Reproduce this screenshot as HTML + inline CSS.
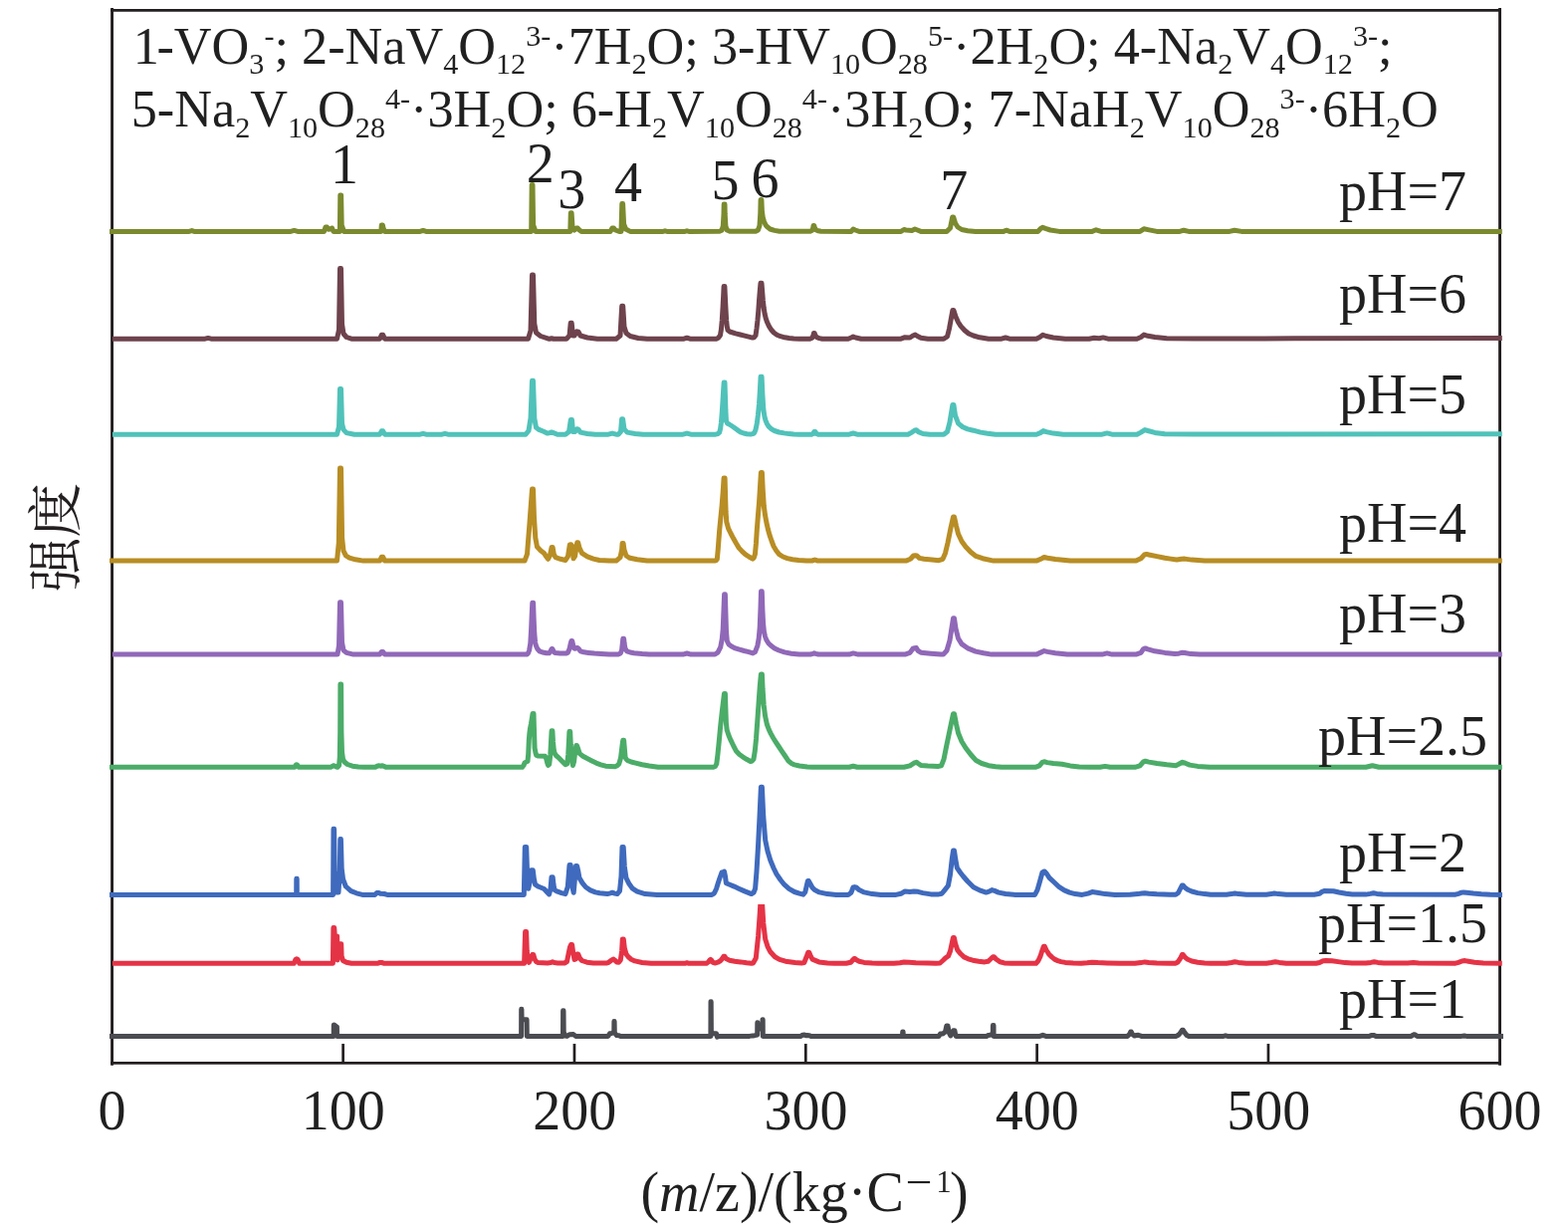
<!DOCTYPE html>
<html><head><meta charset="utf-8"><title>chart</title>
<style>html,body{margin:0;padding:0;background:#fff}svg{display:block}</style>
</head><body>
<svg width="1575" height="1233" viewBox="0 0 1575 1233">
<rect width="1575" height="1233" fill="#fff"/>
<g stroke="#231f20" fill="none">
<path d="M111.1 10.46H1508M111.1 1067.4H1508" stroke-width="2.7"/>
<path d="M112.55 8V1069.8M1506.55 8V1069.8" stroke-width="2.9"/>
<path d="M344.63 1048.1V1067M576.97 1048.1V1067M809.30 1048.1V1067M1041.63 1048.1V1067M1273.96 1048.1V1067" stroke-width="2.7"/>
</g>
<clipPath id="rc"><rect x="0" y="907.9" width="1575" height="100"/></clipPath>
<g fill="none" stroke-width="5.0" stroke-linejoin="round" stroke-linecap="butt">
<path stroke="#7b8a2e" d="M110.0 232.4L190.0 232.4L192.7 231.6L195.0 232.4L292.0 232.4L295.5 231.4L299.0 232.4L325.5 232.4L327.0 228.1L328.5 228.1L330.0 230.3L332.0 229.8L333.5 229.0L335.0 232.4L341.4 232.4L341.8 195.9L342.6 195.9L343.2 226.0L345.5 232.4L382.8 232.4L383.3 225.9L384.3 225.9L385.0 229.0L386.5 232.4L422.0 232.4L425.0 231.4L428.0 232.4L533.7 232.4L534.2 185.5L535.0 185.5L535.6 226.0L538.0 232.4L572.8 232.4L573.3 213.7L574.1 213.7L575.0 228.0L577.0 231.0L579.0 229.0L580.3 229.1L582.0 231.0L584.0 232.4L613.0 232.4L615.0 229.1L616.5 229.1L618.0 231.0L622.0 232.4L624.0 232.4L624.8 204.5L625.6 204.5L626.6 225.0L628.5 230.0L633.0 232.4L666.0 232.4L668.0 231.8L670.0 232.4L688.0 232.4L690.0 231.8L692.0 232.4L722.7 232.3L725.0 231.3L726.3 227.0L727.0 215.0L727.2 205.0L728.0 205.0L728.2 215.0L728.9 227.0L730.2 231.0L733.1 232.3L759.0 232.3L761.5 231.0L763.0 226.5L763.8 214.0L764.1 200.5L764.9 200.5L765.4 212.0L766.3 218.5L767.5 222.5L769.0 225.8L770.7 227.8L773.5 230.0L777.9 231.4L783.0 232.3L813.5 232.3L815.6 231.5L816.7 229.0L817.1 226.4L817.7 226.4L818.4 229.0L819.8 231.0L822.0 231.8L824.6 232.3L855.0 232.4L857.0 230.1L859.0 231.0L863.0 232.4L905.0 232.4L908.0 230.5L910.0 231.0L916.0 231.5L919.0 230.0L921.5 231.0L925.0 232.4L951.0 232.4L954.5 229.0L956.7 217.9L957.7 217.9L959.5 224.0L962.0 228.0L966.0 230.5L972.0 231.7L980.0 232.4L1008.0 232.4L1010.8 231.2L1014.0 232.4L1042.5 232.4L1045.5 229.3L1047.2 228.3L1050.0 229.4L1055.0 231.0L1064.0 232.4L1097.0 232.4L1101.0 230.8L1106.0 232.4L1145.0 232.4L1149.0 229.8L1153.0 230.6L1162.0 232.4L1185.0 232.4L1189.0 231.2L1194.0 232.4L1235.0 232.4L1240.0 231.2L1247.0 232.4L1508.8 232.4"/>
<path stroke="#6e434d" d="M113.0 340.2L206.0 340.2L209.0 339.4L212.0 340.2L338.5 340.2L340.5 331.0L341.5 269.6L342.5 269.6L343.5 325.0L345.0 335.0L348.0 338.5L353.0 340.2L381.5 340.2L383.3 336.3L384.7 336.3L386.5 340.2L530.5 340.2L533.0 332.0L534.5 276.0L535.5 276.0L536.8 325.0L538.5 334.0L543.0 337.5L551.0 340.2L552.0 340.2L554.0 339.7L556.0 340.2L569.0 340.2L572.0 337.0L573.2 324.2L574.2 324.2L575.5 337.0L577.0 337.0L579.5 332.8L581.0 333.2L583.0 337.0L590.0 339.0L600.0 340.2L619.0 340.2L623.0 337.0L624.7 307.2L625.7 307.2L627.0 328.0L629.0 334.5L633.0 337.5L641.0 339.5L650.0 340.2L687.0 340.2L690.0 339.2L693.0 340.2L719.5 340.2L721.5 339.3L723.4 336.8L724.4 331.0L725.3 321.2L726.1 308.0L726.7 296.0L727.1 287.4L727.9 287.4L728.3 296.0L728.9 308.0L729.6 321.2L730.3 328.0L731.1 331.6L733.0 333.0L738.9 334.9L743.5 336.0L748.0 337.1L752.0 338.1L755.8 339.1L757.5 338.7L759.0 336.8L760.0 330.0L761.0 321.2L761.8 312.0L762.5 301.8L763.3 292.0L764.0 284.2L765.0 284.2L765.7 293.0L766.4 301.8L767.2 309.0L768.1 314.8L769.3 319.8L770.7 323.8L772.5 327.6L774.6 331.0L777.3 334.0L780.4 336.2L784.0 337.7L788.2 338.8L792.5 339.5L797.3 339.9L803.0 340.2L813.5 340.2L815.8 339.2L817.0 336.5L817.4 334.5L818.2 334.5L818.8 336.5L820.3 338.7L823.0 339.6L825.9 340.2L852.0 340.2L855.0 339.0L857.0 338.1L859.5 339.0L865.0 340.2L905.0 340.2L909.0 338.7L913.0 339.0L914.0 339.0L917.0 337.0L919.3 336.1L921.5 337.5L925.0 339.3L932.0 340.2L948.0 340.2L951.5 338.0L953.5 330.0L956.9 311.4L957.9 311.4L960.0 318.0L962.5 323.5L965.0 327.4L969.0 331.8L973.0 335.0L977.7 337.0L984.0 338.8L993.0 340.2L1006.0 340.2L1010.0 339.0L1014.0 340.2L1041.0 340.2L1044.5 338.5L1047.5 336.3L1051.0 337.5L1058.0 339.0L1070.0 340.2L1094.0 340.2L1099.0 339.2L1104.0 339.7L1108.0 338.9L1113.0 340.2L1142.0 340.2L1146.0 338.5L1149.0 336.1L1153.0 337.3L1160.0 338.5L1172.0 339.8L1200.0 340.1L1300.0 339.8L1508.8 339.6"/>
<path stroke="#50c2b9" d="M113.0 436.2L338.5 436.2L340.5 428.3L341.5 390.4L342.5 390.4L343.5 425.1L345.0 431.4L348.0 434.6L356.0 436.2L381.5 436.2L383.3 432.8L384.7 432.8L386.5 436.2L422.0 436.2L425.0 435.3L428.0 436.2L444.0 436.2L447.0 435.3L450.0 436.2L528.0 436.2L531.0 432.5L533.0 420.0L534.5 382.3L535.5 382.3L536.8 420.0L538.5 429.3L541.4 431.4L546.0 433.3L550.0 435.1L552.0 434.6L554.0 433.9L556.0 434.6L560.0 436.2L568.0 436.2L571.5 433.6L573.3 421.6L574.5 421.6L575.5 433.6L577.5 433.6L579.5 430.7L581.0 431.1L583.0 434.1L590.0 435.5L598.0 436.2L611.0 436.2L615.0 435.1L619.0 436.2L621.0 436.2L623.5 433.6L624.6 420.8L625.6 420.8L627.0 430.9L630.0 434.1L638.0 435.5L646.0 436.2L686.0 436.2L690.0 435.1L694.0 436.2L718.7 436.2L721.0 435.6L722.7 434.1L723.6 430.5L724.4 424.5L725.2 415.0L726.0 403.0L726.7 391.0L727.2 383.9L728.0 383.9L728.4 396.0L728.9 412.0L729.5 423.0L730.5 425.0L732.4 426.0L734.8 427.5L737.3 429.2L740.5 431.6L743.8 433.8L747.0 435.0L750.3 435.7L754.0 436.0L756.0 435.6L757.6 434.9L759.0 431.5L760.3 425.2L761.4 417.0L762.5 405.7L763.4 392.0L764.1 378.2L765.1 378.2L765.8 394.0L766.8 410.6L767.8 417.5L768.9 421.9L770.4 425.5L772.2 428.4L775.0 430.8L777.9 432.5L782.5 434.0L787.6 434.9L792.5 435.6L797.3 436.0L803.0 436.2L815.2 436.2L816.8 435.5L817.9 433.4L818.9 433.4L820.0 435.5L821.8 436.2L853.0 436.2L857.0 435.0L861.0 436.2L912.0 436.2L916.0 434.1L919.0 431.9L920.5 431.7L922.5 433.6L927.0 435.5L934.0 436.2L948.0 436.2L951.5 433.6L954.0 424.0L956.9 406.4L957.9 406.4L959.5 417.0L962.5 425.1L967.0 428.8L972.0 430.9L977.7 432.2L985.0 434.1L992.0 435.2L1000.0 436.2L1041.0 436.2L1045.0 434.6L1048.0 432.6L1051.0 433.6L1058.0 435.1L1068.0 436.2L1107.0 436.2L1112.0 434.9L1117.0 436.2L1142.0 436.2L1146.0 434.1L1150.0 431.6L1153.0 432.5L1160.0 434.4L1170.0 435.7L1200.0 436.0L1508.8 435.7"/>
<path stroke="#b88d24" d="M110.0 563.1L338.5 563.1L340.3 545.0L341.5 470.0L342.5 470.0L343.6 540.0L345.0 553.2L347.5 558.0L351.0 560.2L357.0 561.8L365.0 563.1L381.5 563.1L383.3 559.2L384.7 559.2L386.5 563.1L527.0 563.1L529.5 556.4L532.0 525.0L534.5 491.1L535.5 491.1L536.5 520.0L537.8 540.0L539.5 549.0L543.0 552.7L546.5 555.4L548.5 558.6L550.5 561.3L552.5 557.5L554.1 549.5L555.1 549.5L556.3 556.4L558.0 559.7L563.0 561.3L568.0 562.5L570.5 558.6L572.3 547.0L573.6 546.7L574.6 548.0L576.0 560.7L577.5 558.6L579.7 544.8L580.7 544.8L582.0 550.0L584.5 555.4L590.0 558.9L596.0 561.1L602.0 562.5L612.0 563.1L619.0 563.1L623.0 559.7L624.6 552.1L625.1 545.5L626.1 545.5L627.0 552.1L629.0 558.0L632.7 560.3L640.0 561.8L650.0 563.1L717.8 563.1L719.3 562.6L720.3 561.4L721.2 552.0L722.7 532.2L723.9 520.0L725.1 507.9L726.2 494.0L727.1 479.9L728.1 479.9L728.6 498.0L729.1 514.0L729.8 524.0L731.6 530.6L734.0 535.5L736.5 540.3L739.3 545.3L742.2 550.1L745.4 553.6L748.7 556.6L752.3 559.0L756.0 561.1L757.3 560.0L758.4 556.6L759.4 546.0L760.3 532.2L761.4 518.0L762.5 504.7L763.5 489.0L764.4 474.4L765.4 474.4L766.2 491.0L767.3 507.9L768.5 517.0L769.8 524.1L771.3 531.0L773.0 537.1L775.0 543.0L777.1 548.5L779.8 553.0L782.7 556.6L786.5 559.0L790.8 560.6L796.0 561.8L802.2 562.6L810.0 563.1L815.5 563.1L817.3 562.4L818.4 562.1L819.6 562.4L821.5 563.1L910.0 563.1L914.5 561.3L917.5 558.0L919.3 557.7L921.0 558.0L923.5 560.4L928.0 561.3L936.0 562.1L943.0 562.7L947.0 561.3L949.5 555.4L952.0 545.0L955.0 530.0L957.5 519.0L958.5 519.0L960.5 528.0L962.5 536.0L966.0 543.5L970.0 549.0L975.0 554.3L980.3 558.4L987.0 560.7L998.0 563.1L1041.0 563.1L1045.5 561.3L1048.8 559.4L1052.0 560.2L1060.0 561.5L1075.0 563.1L1141.0 563.1L1146.0 560.7L1149.5 557.0L1151.6 556.4L1154.0 557.0L1162.0 558.6L1170.0 560.2L1175.7 561.1L1182.0 562.0L1187.0 561.3L1190.0 561.1L1197.0 562.1L1210.0 562.9L1508.8 562.9"/>
<path stroke="#9068b8" d="M113.0 657.1L339.0 657.1L340.5 648.1L341.5 604.8L342.5 604.8L343.5 645.0L345.0 652.8L348.0 655.4L355.0 657.1L381.5 657.1L383.3 654.4L384.7 654.4L386.5 657.1L529.2 657.0L530.5 656.0L531.6 653.0L532.8 646.0L533.6 632.0L534.3 615.0L534.8 605.2L535.6 605.2L536.1 620.0L536.8 636.0L537.6 645.0L538.4 648.3L539.8 651.5L541.9 653.8L545.0 655.0L549.0 655.7L551.5 655.8L552.6 654.5L553.6 652.5L554.2 651.6L554.8 651.6L555.5 652.8L556.5 654.8L557.8 655.6L562.4 655.9L568.8 656.0L570.4 655.2L572.0 651.5L573.0 647.0L573.9 643.6L574.7 643.6L575.5 647.0L576.4 650.5L577.2 651.3L578.2 651.0L579.4 650.4L580.2 650.4L581.3 651.5L583.0 653.8L586.5 654.8L590.9 655.4L597.0 656.1L603.6 656.5L612.0 657.0L621.0 657.0L623.3 656.0L624.6 652.5L625.3 646.0L625.8 641.3L626.6 641.3L627.1 646.0L627.9 651.0L629.7 653.8L633.0 655.0L636.8 655.7L645.0 656.5L652.0 657.0L686.0 657.1L690.0 656.0L694.0 657.1L718.2 657.0L721.0 655.2L723.7 649.9L725.2 642.0L726.2 632.0L727.0 612.0L727.6 596.7L728.4 596.7L728.9 615.0L729.5 634.0L730.3 643.5L732.0 647.0L734.8 649.1L738.5 650.9L742.7 652.2L747.5 653.5L752.2 654.6L756.2 655.9L758.5 654.6L760.9 648.3L762.2 641.0L763.2 630.0L764.0 610.0L764.5 593.8L765.3 593.8L765.9 612.0L766.6 626.0L767.4 634.0L768.5 639.0L769.8 642.5L772.0 646.0L774.4 648.3L778.0 651.0L782.3 653.0L788.0 654.9L794.9 656.2L802.8 657.0L814.0 657.0L816.5 656.3L817.9 655.8L819.5 656.3L822.0 657.0L853.0 657.1L857.0 655.9L862.0 657.1L909.0 657.1L914.0 655.4L917.0 651.2L918.7 650.8L920.5 650.6L922.0 653.3L925.0 655.2L935.0 656.2L945.0 657.1L947.5 657.1L951.0 653.3L954.0 643.0L957.5 620.8L958.5 620.8L960.0 631.0L962.5 641.0L966.0 646.6L972.6 651.2L980.0 654.1L988.0 655.7L996.0 657.1L1041.0 657.1L1046.0 654.9L1048.8 653.6L1052.0 654.4L1060.0 655.7L1072.0 657.1L1107.0 657.1L1112.0 655.9L1117.0 657.1L1141.0 657.1L1146.0 655.4L1148.5 651.6L1150.5 651.0L1153.0 651.8L1160.0 653.8L1170.0 655.4L1180.0 656.4L1184.0 656.2L1187.0 655.3L1190.0 655.5L1196.0 656.6L1205.0 657.1L1508.8 657.1"/>
<path stroke="#4bac68" d="M110.0 770.3L296.0 770.3L297.3 768.0L297.9 767.7L298.6 768.0L300.0 770.3L332.5 770.3L334.3 769.0L335.1 768.7L336.0 769.0L337.5 769.8L339.0 770.3L340.6 768.5L341.3 760.0L341.7 735.0L341.9 687.1L342.6 687.1L342.9 735.0L343.5 755.0L344.5 762.0L346.0 765.0L349.0 767.5L354.0 769.2L360.0 770.0L366.0 770.3L377.0 770.3L379.4 769.0L381.0 768.8L382.5 769.2L384.2 768.8L385.5 769.3L387.5 770.3L524.5 770.3L526.0 768.5L526.9 766.1L528.5 765.0L530.0 764.5L530.7 757.0L531.3 743.2L531.9 736.0L532.4 732.1L533.4 727.0L534.4 721.0L535.1 716.4L536.0 716.4L536.4 730.0L537.1 751.1L537.9 755.5L538.7 758.2L540.3 759.0L547.4 759.2L548.6 761.5L549.7 766.0L550.6 768.5L551.7 767.5L552.8 758.0L553.5 745.0L554.1 733.8L554.9 733.8L555.5 745.0L556.2 752.0L556.9 755.8L558.5 758.5L560.9 760.6L564.5 764.2L568.0 767.7L569.7 767.0L570.7 758.0L571.4 745.0L571.9 734.6L572.7 734.6L573.3 748.0L574.2 760.0L575.4 768.5L576.5 765.0L577.5 757.0L578.4 751.0L578.8 748.5L579.5 748.5L580.4 751.0L582.2 756.6L585.5 759.2L589.3 761.3L594.0 763.7L598.8 766.1L603.5 767.8L608.3 769.2L617.8 769.7L620.0 768.7L621.8 766.9L623.5 761.0L624.6 752.0L625.4 745.5L625.8 743.3L626.6 743.3L627.2 750.0L628.1 760.6L629.2 762.5L630.5 763.7L634.0 765.0L638.4 766.1L645.0 767.7L652.0 769.0L661.0 770.3L716.6 770.3L718.5 769.5L719.8 766.9L721.0 757.0L722.2 745.0L723.7 729.0L725.0 717.0L726.3 706.0L727.5 696.4L728.4 696.4L728.9 712.0L729.4 726.0L730.2 733.0L732.0 738.5L734.0 743.2L736.8 749.0L739.6 754.3L742.7 757.5L745.9 759.8L749.8 762.3L753.8 764.5L755.3 764.3L757.0 762.2L758.3 754.0L759.5 742.0L760.8 724.0L762.0 707.0L763.2 690.0L764.4 676.9L765.4 676.9L766.1 692.0L767.2 708.0L768.6 719.0L770.4 727.4L772.3 732.5L774.4 736.9L776.7 741.0L779.1 744.8L782.2 749.5L785.4 754.3L788.6 759.0L791.8 763.8L794.5 766.2L798.1 767.9L803.0 769.0L810.8 770.0L816.0 770.3L853.0 770.3L857.0 769.3L861.0 770.3L908.0 770.3L914.0 768.9L918.0 766.2L920.6 765.3L922.5 766.7L925.0 768.4L932.0 769.1L942.0 769.5L945.5 768.9L948.0 762.4L950.5 750.0L953.0 738.0L955.5 726.0L957.5 716.8L958.5 716.8L960.5 727.0L962.5 736.0L966.0 744.5L970.0 751.0L975.0 757.5L980.0 763.2L986.0 766.5L993.0 768.7L1000.0 769.8L1006.0 770.3L1040.0 770.3L1044.0 768.9L1047.0 765.4L1048.8 764.8L1052.0 765.6L1058.0 766.5L1066.6 767.3L1075.0 768.9L1084.0 770.0L1095.0 770.3L1105.0 770.3L1110.0 769.4L1115.0 770.3L1140.0 770.3L1145.0 768.9L1148.5 764.8L1150.4 764.2L1154.0 765.1L1162.0 766.5L1172.0 767.8L1181.0 768.7L1184.0 767.3L1187.7 765.3L1190.5 766.2L1195.0 768.1L1203.0 769.4L1215.0 770.3L1372.0 770.3L1378.5 768.7L1385.0 770.3L1508.8 770.3"/>
<path stroke="#3f6abd" d="M110.0 898.4L297.7 898.4L297.8 882.2L298.2 882.2L298.3 898.4L334.6 898.4L335.0 832.2L335.6 832.2L336.2 876.0L337.6 896.0L340.0 896.0L341.3 876.0L341.8 842.6L342.4 842.6L343.2 872.0L344.6 883.0L347.3 890.0L352.5 894.6L358.0 896.8L364.0 898.4L376.5 898.4L378.5 896.4L380.5 896.4L382.0 897.2L386.0 897.5L389.0 898.4L526.3 898.4L527.3 850.4L528.7 850.4L529.7 880.0L530.8 892.2L532.3 885.0L533.6 873.8L535.3 873.8L536.3 882.0L537.6 888.2L541.0 890.3L546.5 892.5L549.0 895.2L551.6 897.9L553.0 892.5L554.0 880.8L555.2 880.8L556.0 888.2L557.0 893.6L560.0 895.2L564.0 896.6L568.0 897.6L570.3 890.3L571.5 875.0L572.0 868.6L573.2 868.6L574.2 880.0L575.3 892.5L576.2 896.2L577.2 885.0L578.4 869.4L579.6 869.4L580.8 875.0L582.0 881.6L585.0 886.6L588.4 890.8L593.0 893.9L598.0 895.9L602.4 896.8L610.0 897.6L613.0 896.8L615.0 896.2L617.5 897.1L620.0 897.6L622.5 894.6L624.0 880.0L625.0 850.4L626.2 850.4L627.3 870.0L629.0 881.6L632.0 887.6L635.4 892.2L640.0 895.2L648.0 897.6L660.0 898.4L715.0 898.4L717.5 896.8L719.5 892.5L721.5 886.0L723.0 881.5L725.0 876.0L726.3 875.7L727.5 875.1L728.5 880.0L729.4 886.7L733.0 888.2L737.5 890.1L742.0 892.2L748.0 894.9L754.8 897.6L757.0 896.2L758.6 892.2L760.0 875.0L761.5 850.0L763.0 820.0L764.4 790.2L765.4 790.2L766.8 820.0L768.7 843.5L771.0 854.5L773.8 863.8L777.0 871.5L780.0 877.7L784.0 883.5L787.8 888.2L792.5 892.3L798.0 895.5L803.0 897.1L806.8 898.2L808.8 895.7L810.5 888.2L811.4 884.6L812.4 884.6L813.8 887.1L816.0 891.2L818.3 893.6L823.0 895.9L831.0 897.6L840.0 898.4L852.0 898.4L855.0 896.2L857.0 890.9L858.4 890.6L860.0 890.9L863.0 893.6L868.0 895.9L876.0 897.6L885.0 898.4L900.0 898.4L905.0 897.3L909.0 894.9L914.0 895.4L918.0 895.0L922.0 895.3L927.0 896.6L935.0 897.9L942.0 898.1L946.0 897.3L949.0 893.6L952.4 889.3L954.5 878.0L956.3 862.0L957.5 854.0L958.5 854.0L959.8 863.0L961.3 871.3L964.5 876.0L967.6 880.0L972.0 885.0L977.8 890.7L984.0 893.9L990.5 896.1L993.5 895.2L996.3 893.6L999.0 894.4L1003.0 896.1L1010.0 897.5L1020.0 898.4L1039.5 898.4L1042.0 893.6L1044.5 885.0L1047.0 876.0L1048.4 875.1L1049.4 875.1L1051.5 877.5L1054.0 881.4L1059.0 886.0L1064.0 890.7L1069.0 893.9L1074.3 896.1L1080.0 897.6L1087.0 898.4L1093.0 897.1L1097.0 895.6L1102.0 896.2L1110.0 897.6L1120.0 898.4L1135.0 898.3L1143.0 897.6L1147.0 897.0L1149.9 896.7L1154.0 897.2L1162.0 897.8L1175.0 898.2L1181.0 898.2L1183.5 896.5L1185.5 892.5L1187.4 888.9L1188.4 888.9L1190.0 891.0L1193.0 893.3L1197.0 895.0L1203.0 896.6L1210.0 897.6L1216.0 898.2L1232.0 898.2L1237.0 897.6L1240.4 897.0L1244.0 897.6L1252.0 898.2L1272.0 898.2L1277.0 897.6L1279.9 897.0L1284.0 897.6L1292.0 898.2L1320.0 898.2L1325.5 897.3L1328.0 895.3L1330.0 894.6L1339.4 894.7L1345.0 896.0L1352.0 897.3L1358.4 898.0L1372.0 898.1L1376.5 897.4L1379.6 896.7L1383.0 897.4L1389.0 898.1L1462.0 898.2L1465.0 897.3L1468.0 896.2L1470.0 895.9L1473.0 896.2L1480.0 897.0L1488.0 897.7L1497.0 898.2L1509.0 898.4"/>
<path stroke="#e53346" clip-path="url(#rc)" d="M113.0 967.3L295.3 967.3L296.8 963.6L298.0 962.7L299.2 963.6L300.7 967.3L334.4 967.3L334.9 931.5L335.7 931.5L336.3 939.9L338.6 939.9L339.0 964.0L339.4 947.7L342.7 947.7L343.1 960.0L344.5 964.5L348.0 966.3L353.0 967.3L379.0 967.3L381.5 966.5L383.5 966.5L386.0 967.3L526.6 967.3L527.6 935.6L528.6 935.6L529.3 955.0L530.3 964.0L531.4 966.3L533.3 962.0L534.8 958.6L535.8 958.6L537.0 963.0L538.5 965.5L540.5 966.6L550.0 966.9L553.0 966.6L555.0 965.8L557.0 966.6L560.0 966.9L567.0 967.0L569.5 965.5L571.4 956.0L572.5 951.0L573.6 948.5L574.6 948.5L575.6 956.0L577.0 963.5L578.3 963.0L579.6 958.1L580.8 958.1L582.3 962.0L584.5 964.5L589.5 966.2L596.0 966.9L609.0 967.1L611.4 966.3L614.0 964.2L616.3 963.1L618.0 964.5L619.5 966.0L621.5 966.3L623.3 964.0L624.6 955.0L625.3 943.0L626.3 943.0L627.3 952.0L629.0 958.0L631.1 960.8L634.0 963.2L637.7 964.9L645.0 966.5L654.0 967.3L688.0 967.3L690.0 966.7L692.0 967.3L709.5 967.3L711.5 966.0L713.0 963.8L713.7 963.4L714.6 964.0L716.0 966.3L718.6 967.0L721.0 966.2L723.5 964.8L725.5 962.5L726.9 960.2L727.9 960.2L729.3 962.5L732.8 964.2L738.0 965.2L743.8 965.9L750.0 966.8L754.7 967.3L756.5 967.0L759.3 962.0L761.6 940.0L763.2 918.0L764.1 903.0L765.3 903.0L766.8 927.0L768.7 943.0L771.0 950.3L773.6 955.5L778.4 960.8L783.0 963.4L789.0 965.2L798.5 966.5L805.1 967.0L807.8 966.5L810.0 961.0L811.7 956.3L812.7 956.3L814.0 959.5L816.0 963.1L822.6 965.9L831.3 967.0L838.0 967.3L850.0 967.3L854.5 966.3L856.5 964.0L857.9 962.6L858.9 962.6L860.2 963.8L863.0 965.3L868.0 966.4L876.0 967.1L882.0 967.3L898.0 967.3L904.0 966.8L908.0 966.0L913.0 966.3L920.0 966.7L932.0 967.1L940.0 967.2L944.2 967.0L947.0 964.5L949.7 961.9L952.5 960.0L954.5 955.0L956.0 948.0L957.4 941.6L958.4 941.6L959.5 947.0L961.7 953.8L965.0 957.8L968.3 960.9L972.5 962.8L977.1 964.2L983.0 965.2L989.1 965.9L992.4 965.3L995.0 963.0L997.4 960.7L998.4 960.7L1000.5 963.0L1004.4 965.8L1008.8 966.9L1016.0 967.3L1040.6 967.3L1043.0 964.5L1044.9 960.4L1046.8 954.5L1048.3 950.3L1049.3 950.3L1051.0 954.0L1053.7 958.2L1056.5 960.9L1059.2 963.1L1062.5 964.6L1065.7 965.6L1070.0 966.4L1078.0 967.0L1086.0 967.2L1092.0 966.8L1097.0 966.2L1103.0 966.6L1112.0 967.0L1125.0 967.3L1140.0 967.3L1146.0 966.6L1149.9 965.9L1154.0 966.4L1162.0 967.0L1175.0 967.2L1181.0 967.2L1183.0 966.0L1185.5 962.5L1187.4 958.6L1188.4 958.6L1190.0 960.8L1193.0 963.3L1197.0 965.0L1203.0 966.3L1210.0 967.0L1216.0 967.2L1232.0 967.2L1237.0 966.5L1240.4 965.7L1244.0 966.4L1252.0 967.2L1272.0 967.2L1277.0 966.5L1281.0 965.7L1285.0 966.4L1292.0 967.2L1322.0 967.2L1325.5 966.5L1329.0 964.8L1332.0 964.6L1338.0 964.7L1344.0 965.6L1351.0 966.6L1358.0 967.1L1372.0 967.1L1377.0 966.4L1380.3 965.8L1384.0 966.4L1390.0 967.1L1414.0 967.1L1419.7 966.6L1425.0 967.1L1462.0 967.2L1465.0 966.4L1468.5 965.0L1471.5 964.6L1475.0 965.2L1481.0 966.3L1490.0 967.1L1508.8 967.3"/>
<path stroke="#4b4c52" d="M110.0 1040.4L335.2 1040.4L335.3 1029.1L335.6 1029.0L338.2 1030.9L338.4 1031.1L338.5 1040.4L523.6 1040.4L523.7 1013.2L523.9 1013.2L524.1 1023.7L529.1 1023.7L529.3 1040.4L565.5 1040.4L565.6 1014.7L566.0 1014.7L566.2 1036.0L567.5 1040.0L569.5 1040.4L572.0 1038.7L576.0 1038.6L578.3 1040.4L610.8 1040.4L612.5 1037.8L614.5 1037.5L616.8 1036.0L616.9 1025.6L617.1 1025.6L617.3 1037.0L619.5 1039.6L622.0 1039.7L623.0 1040.4L713.9 1040.4L714.0 1005.7L714.2 1005.7L714.4 1036.0L716.5 1037.8L719.5 1037.8L720.5 1041.2L721.8 1040.4L752.8 1040.4L756.0 1039.9L758.0 1039.7L760.7 1039.0L760.8 1026.8L761.0 1026.8L761.1 1033.0L766.0 1033.0L766.0 1023.7L766.2 1023.7L766.3 1040.4L804.5 1040.4L806.0 1039.2L808.0 1039.1L809.5 1039.8L811.0 1039.6L813.0 1039.7L814.2 1040.4L906.5 1040.4L906.7 1035.9L907.1 1035.9L907.3 1040.4L943.0 1040.4L944.5 1038.0L947.0 1037.9L949.5 1036.0L950.8 1029.9L952.0 1029.9L953.3 1037.0L954.8 1040.0L956.5 1037.0L957.7 1034.8L958.9 1034.8L959.5 1038.0L960.3 1040.4L991.3 1040.4L992.5 1039.4L994.5 1039.3L997.3 1038.0L997.4 1029.5L998.0 1029.5L998.1 1040.4L1044.5 1040.4L1047.5 1039.3L1050.5 1040.4L1132.5 1040.4L1134.5 1038.5L1135.7 1036.0L1136.3 1036.0L1137.5 1038.5L1139.5 1040.0L1141.5 1039.5L1143.4 1039.3L1145.0 1039.8L1146.5 1040.4L1181.5 1040.4L1184.0 1039.0L1186.0 1036.5L1187.4 1034.3L1188.4 1034.3L1189.8 1036.5L1192.0 1039.5L1194.0 1040.4L1229.0 1040.4L1231.0 1039.8L1233.0 1040.4L1375.5 1040.4L1378.0 1039.4L1379.6 1039.4L1382.0 1040.4L1417.5 1040.4L1419.5 1039.0L1420.4 1038.7L1421.5 1039.0L1423.5 1040.4L1468.0 1040.4L1470.8 1040.0L1473.0 1040.4L1510.0 1040.4"/>
</g>
<g font-family="'Liberation Serif', serif" fill="#231f20" style="filter:grayscale(1)">
<text x="112.50" y="1133.6" font-size="56" text-anchor="middle">0</text>
<text x="344.83" y="1133.6" font-size="56" text-anchor="middle">100</text>
<text x="577.17" y="1133.6" font-size="56" text-anchor="middle">200</text>
<text x="809.50" y="1133.6" font-size="56" text-anchor="middle">300</text>
<text x="1041.83" y="1133.6" font-size="56" text-anchor="middle">400</text>
<text x="1274.16" y="1133.6" font-size="56" text-anchor="middle">500</text>
<text x="1506.50" y="1133.6" font-size="56" text-anchor="middle">600</text>
<text x="1345.1" y="210.7" font-size="56">pH=7</text>
<text x="1345.1" y="314.4" font-size="56">pH=6</text>
<text x="1345.1" y="414.9" font-size="56">pH=5</text>
<text x="1345.1" y="544" font-size="56">pH=4</text>
<text x="1345.1" y="635.4" font-size="56">pH=3</text>
<text x="1324" y="758.4" font-size="56">pH=2.5</text>
<text x="1345.1" y="875.2" font-size="56">pH=2</text>
<text x="1324" y="946.2" font-size="56">pH=1.5</text>
<text x="1345.1" y="1022.2" font-size="56">pH=1</text>
<text x="331.9" y="184" font-size="56">1</text>
<text x="528.8" y="182.9" font-size="56">2</text>
<text x="560.3" y="209.1" font-size="56">3</text>
<text x="617.1" y="201.8" font-size="56">4</text>
<text x="714.6" y="200.4" font-size="56">5</text>
<text x="754.4" y="197.6" font-size="56">6</text>
<text x="944.3" y="209.9" font-size="56">7</text>
<text x="133.7" y="64" font-size="52.25"><tspan>1<tspan dx="-2.4">-</tspan>VO</tspan><tspan dy="10.3" font-size="30.15">3</tspan><tspan dy="-28.6" font-size="30.15">-</tspan><tspan dy="18.3" font-size="52.25">; 2-NaV</tspan><tspan dy="10.3" font-size="30.15">4</tspan><tspan dy="-10.3" font-size="52.25">O</tspan><tspan dy="10.3" font-size="30.15">12</tspan><tspan dy="-28.6" font-size="30.15">3-</tspan><tspan dy="18.3" font-size="52.25">·7H</tspan><tspan dy="10.3" font-size="30.15">2</tspan><tspan dy="-10.3" font-size="52.25">O; 3-HV</tspan><tspan dy="10.3" font-size="30.15">10</tspan><tspan dy="-10.3" font-size="52.25">O</tspan><tspan dy="10.3" font-size="30.15">28</tspan><tspan dy="-28.6" font-size="30.15">5-</tspan><tspan dy="18.3" font-size="52.25">·2H</tspan><tspan dy="10.3" font-size="30.15">2</tspan><tspan dy="-10.3" font-size="52.25">O; 4-Na</tspan><tspan dy="10.3" font-size="30.15">2</tspan><tspan dy="-10.3" font-size="52.25">V</tspan><tspan dy="10.3" font-size="30.15">4</tspan><tspan dy="-10.3" font-size="52.25">O</tspan><tspan dy="10.3" font-size="30.15">12</tspan><tspan dy="-28.6" font-size="30.15">3-</tspan><tspan dy="18.3" font-size="52.25">;</tspan></text>
<text x="131.7" y="127.3" font-size="52.25"><tspan>5-Na</tspan><tspan dy="10.3" font-size="30.15">2</tspan><tspan dy="-10.3" font-size="52.25">V</tspan><tspan dy="10.3" font-size="30.15">10</tspan><tspan dy="-10.3" font-size="52.25">O</tspan><tspan dy="10.3" font-size="30.15">28</tspan><tspan dy="-28.6" font-size="30.15">4-</tspan><tspan dy="18.3" font-size="52.25">·3H</tspan><tspan dy="10.3" font-size="30.15">2</tspan><tspan dy="-10.3" font-size="52.25">O; 6-H</tspan><tspan dy="10.3" font-size="30.15">2</tspan><tspan dy="-10.3" font-size="52.25">V</tspan><tspan dy="10.3" font-size="30.15">10</tspan><tspan dy="-10.3" font-size="52.25">O</tspan><tspan dy="10.3" font-size="30.15">28</tspan><tspan dy="-28.6" font-size="30.15">4-</tspan><tspan dy="18.3" font-size="52.25">·3H</tspan><tspan dy="10.3" font-size="30.15">2</tspan><tspan dy="-10.3" font-size="52.25">O; 7-NaH</tspan><tspan dy="10.3" font-size="30.15">2</tspan><tspan dy="-10.3" font-size="52.25">V</tspan><tspan dy="10.3" font-size="30.15">10</tspan><tspan dy="-10.3" font-size="52.25">O</tspan><tspan dy="10.3" font-size="30.15">28</tspan><tspan dy="-28.6" font-size="30.15">3-</tspan><tspan dy="18.3" font-size="52.25">·6H</tspan><tspan dy="10.3" font-size="30.15">2</tspan><tspan dy="-10.3" font-size="52.25">O</tspan></text>
<text x="643.4" y="1216" font-size="56">(<tspan font-style="italic">m</tspan>/z)/(kg·C</text>
<rect x="911.9" y="1186" width="22.2" height="2.1"/>
<text x="940.3" y="1196.8" font-size="31">1</text>
<text x="953.9" y="1216" font-size="56">)</text>
</g>
<text transform="translate(74.5,594.0) rotate(-90)" x="0" y="0" font-size="54.5" fill="#231f20" font-family="'Liberation Serif', 'Noto Serif CJK SC', serif">强度</text>
</svg>
</body></html>
